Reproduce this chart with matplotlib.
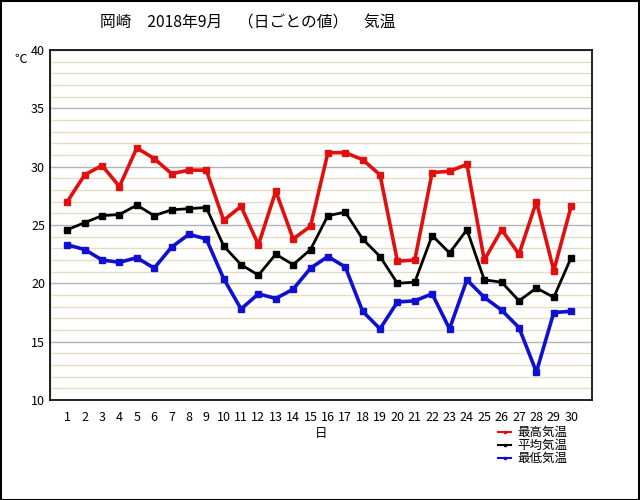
import matplotlib
matplotlib.use("Agg")
import matplotlib.pyplot as plt
from matplotlib.patches import Rectangle
from matplotlib.ticker import MultipleLocator

plt.rcParams['font.family'] = ['Noto Sans CJK JP', 'DejaVu Sans']

days = list(range(1, 31))
t_max = [27.0, 29.3, 30.1, 28.3, 31.6, 30.7, 29.4, 29.7, 29.7, 25.4,
         26.6, 23.3, 27.9, 23.8, 24.9, 31.2, 31.2, 30.6, 29.3, 21.9,
         22.0, 29.5, 29.6, 30.2, 22.0, 24.6, 22.5, 27.0, 21.1, 26.6]
t_avg = [24.6, 25.2, 25.8, 25.9, 26.7, 25.8, 26.3, 26.4, 26.5, 23.2,
         21.6, 20.7, 22.5, 21.6, 22.9, 25.8, 26.1, 23.8, 22.3, 20.0,
         20.1, 24.1, 22.6, 24.6, 20.3, 20.1, 18.5, 19.6, 18.8, 22.2]
t_min = [23.3, 22.9, 22.0, 21.8, 22.2, 21.3, 23.1, 24.2, 23.8, 20.4,
         17.8, 19.1, 18.7, 19.5, 21.3, 22.3, 21.4, 17.6, 16.1, 18.4,
         18.5, 19.1, 16.1, 20.3, 18.8, 17.7, 16.2, 12.4, 17.5, 17.6]
labels = ['最高気温', '平均気温', '最低気温']

fig = plt.figure(figsize=(6.4, 5.0), dpi=100)
ax = fig.add_axes([0.078, 0.2, 0.847, 0.7])

ax.plot(days, t_max, color='#E01010', lw=2.6, marker='s', ms=5, label=labels[0])
ax.plot(days, t_avg, color='black', lw=2.0, marker='s', ms=5, label=labels[1])
ax.plot(days, t_min, color='#1010D0', lw=2.6, marker='s', ms=5, label=labels[2])

ax.set_xlim(0, 31.2)
ax.set_ylim(10, 40)
ax.yaxis.set_major_locator(MultipleLocator(5))
ax.yaxis.set_minor_locator(MultipleLocator(1))
ax.set_xticks(days)
ax.xaxis.set_minor_locator(MultipleLocator(5))
ax.grid(False)
ax.grid(True, which='minor', axis='y', color='#E6DCC4', lw=1)
ax.grid(True, which='major', axis='y', color='#B4B4B4', lw=1)
ax.grid(True, which='minor', axis='x', color='#B4B4B4', lw=1)
ax.set_axisbelow(True)
ax.tick_params(which='both', length=0, labelsize=9)
ax.tick_params(axis='x', pad=8)
for s in ax.spines.values():
    s.set_linewidth(1.2)

ax.set_xlabel('日', fontsize=9, labelpad=2)
fig.text(0.023, 0.875, '℃', fontsize=9)
fig.text(0.156, 0.945, '岡崎　2018年9月　（日ごとの値）　気温', fontsize=11.3)

leg = ax.legend(loc='upper left', bbox_to_anchor=(0.818, -0.06), frameon=False,
                fontsize=9, handlelength=1.0, markerscale=0.4,
                labelspacing=0.0, handletextpad=0.5, borderaxespad=0)
for h in leg.get_lines():
    h.set_linewidth(1.5)

fig.add_artist(Rectangle((0.001, 0.001), 0.997, 0.997, transform=fig.transFigure,
                         fill=False, ec='black', lw=1.5))

fig.savefig('out.png', dpi=100)
